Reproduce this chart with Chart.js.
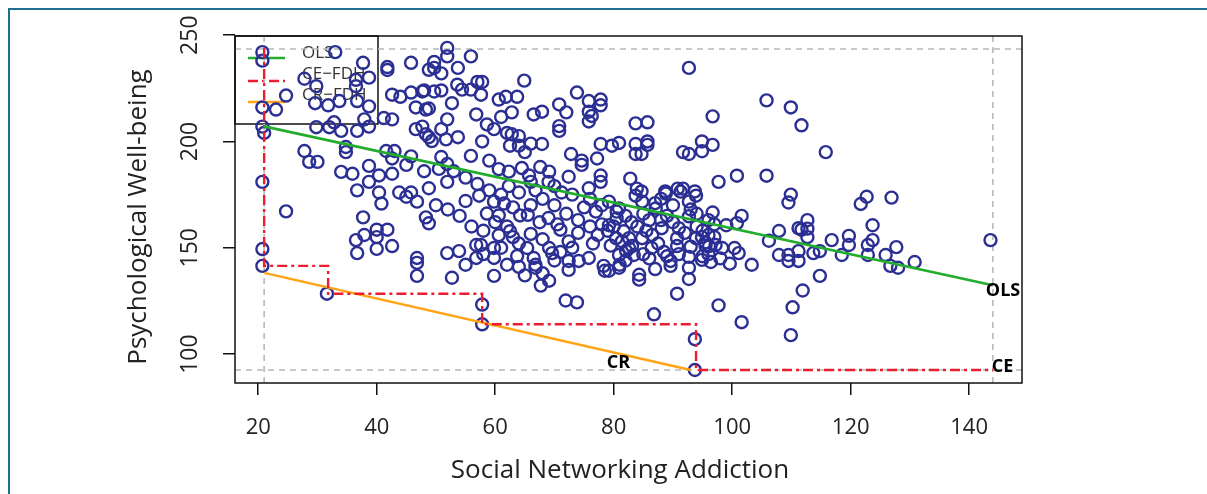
<!DOCTYPE html>
<html><head><meta charset="utf-8">
<script src="https://cdn.jsdelivr.net/npm/chart.js@4.4.1/dist/chart.umd.min.js"></script>
<style>html,body{margin:0;padding:0;background:#fff;}canvas{display:block;}</style>
</head><body>
<canvas id="c" width="1207" height="494"></canvas>
<script>
const xTicks=[20,40,60,80,100,120,140];
const yTicks=[100,150,200,250];
const addiction=[20.7,20.7,20.7,20.7,21,20.7,20.7,20.7,23,24.7,24.7,27.8,27.8,28.6,29.6,29.8,29.8,30,31.6,31.8,32,32.8,33,33.7,34,34,34.8,34.8,35.9,36.5,36.5,36.5,36.7,36.7,36.7,36.7,37.7,37.7,37.9,37.9,38.7,38.7,38.7,38.7,38.7,40,40,40,40.4,40.4,40.8,41.2,41.6,41.8,41.8,41.8,42.6,42.6,42.6,42.6,42.6,43,43.8,44,45,45,45.8,45.8,45.8,45.8,46.6,46.6,46.8,46.8,46.8,46.8,47.7,47.7,48,48,48.3,48.3,48.3,48.8,48.8,48.8,48.8,48.8,49.3,49.7,49.7,49.7,50.5,50.9,50.9,50.9,50.9,51.7,51.9,51.9,51.9,51.9,51.9,51.9,52.7,52.7,53.6,53.7,53.7,53.9,54.4,55.9,55.9,55.9,56.8,56.8,56.8,57,57.3,57.6,57.6,57.8,57.8,57.8,57.8,58.6,58.6,59,59,59.8,59.8,59.8,59.8,59.8,60.6,60.6,60.6,60.6,61,61.5,61.8,62,62.3,62.3,62.5,62.5,62.8,62.8,63.7,63.7,64,64,64,64.2,64.5,64.9,65,65.4,65.5,65.7,66,66,66.5,66.5,66.8,66.8,66.8,67.5,67.6,67.7,67.9,67.9,68,69,69,69.1,69.1,69.1,69.6,70.5,70.8,70.8,70.8,71,71.2,71.9,72,72.4,72.4,72.4,72.4,72.8,73.8,73.8,74.1,74.6,74.6,75,75.8,75.8,75.8,75.8,75.8,76,76.3,76.5,77,77.2,77.3,77.8,77.8,77.8,77.8,77.8,78,78.3,78.5,79,79.2,79.2,79.2,79.5,79.7,80,80.4,80.5,80.5,80.9,80.9,80.9,80.9,81.4,81.7,82.1,82.6,82.6,82.8,83.1,83.4,83.7,83.7,83.7,83.7,83.9,84.3,84.3,84.7,84.7,84.8,84.8,85.7,85.7,85.7,86.4,86.8,87.1,88.1,88.7,88.8,89.6,89.6,90.7,90.7,90.7,90.8,91,91.3,91.7,91.7,92.7,92.7,92.7,92.7,92.7,92.7,92.7,93,93.7,93.7,93.7,93.9,93.9,94.9,94.9,94.9,94.9,95.5,95.5,96.1,96.4,96.7,96.7,96.7,97.2,97.7,97.7,98.3,99,99.6,100.4,100.8,100.8,101.1,101.6,101.6,103.3,105.8,105.8,106.2,107.9,107.9,109.5,109.5,109.5,109.9,109.9,109.9,110.2,111.2,111.2,111.2,111.7,111.7,111.9,112.7,112.7,112.7,113.7,114.8,114.8,115.8,116.8,118.5,119.7,119.7,121.7,122.7,122.9,122.9,123.7,123.7,125.9,126.7,126.9,127.7,128,130.8,143.6,
84,85.5,86.5,87.5,88.5,89,86,85,82,81,87,91,92,94,95,96,97,95,96,98,90,89,88,86,83,82,85,87,88,90,93,94,96,97,
50,52,54,55,56,58,60,62,63,64,61,58,55,62,64,65,68,70,71,73,74,74,72,70,68,66,63,61,57,55,53,66,70,73,76,78];
const wellbeing=[242,238,216,207,204,181,149.4,141.5,215,221.6,167.1,229.5,195.5,190.4,218,226,206.7,190.4,128.4,217,206.7,209,242,219,205,185.7,197.4,195,184.8,229,226,153.6,219,205,177,147.5,237,164.3,210.4,156,230,216.5,207,188.5,181,158.5,155,149.5,184,176,170.8,211,195.5,235,233.6,158.5,222,210.4,192,184.8,150.8,195.5,176,221,189,174,237,223,193,176,216,205.8,171.7,145.2,142.9,136.8,223.5,207,224,186,215,203.4,164.3,233.7,215.5,202,178,161.5,200.2,237.4,234.6,223.5,187.1,232,224,205.8,192.7,201,244,240,210.4,189.4,181,147.5,218,135.9,226.7,234.6,202,148.4,224.4,240,224.4,193.2,212.7,151.3,145.2,228,174.5,222,151.3,228,200,123.3,114,208,166.1,191,177,205.8,171.7,149.9,145.2,136.8,219.7,187,165.2,155.9,211.5,170.8,221,204,185.8,179,198,157.8,213.7,203.4,221,146.1,202.5,198,176,165.2,187.5,228.6,195,149.9,165.5,184,199,156.5,212.7,145.2,177,142,140.6,162,188,132.2,214,198.8,154,181,164,185.8,149.9,134.5,147.5,161,217.4,207.2,205,158.5,176,125.2,213.7,183.4,153,143.8,139.6,194.1,223,124.3,143.8,191,189,169,219,214,209.4,178,145.2,160,212,152,167,192,156,219.7,217,198.8,184,181,161,141.5,139.2,158,139.2,171.7,160.6,151,198,160,154.5,167,163.8,199.3,168.5,146.6,140.6,153,157.8,148.5,154.5,149.9,182.5,150.8,146.6,208.5,198.8,194.1,174.5,177.8,137.3,135,194.1,176.5,171.7,154.5,209,200,198.4,149.9,118.7,168.5,159.2,176.5,175.5,143.8,141.5,150.8,154.5,128.4,177.8,159.2,176.4,195,177.8,234.6,194.1,171.7,164.8,145.7,140.6,135.3,150.5,176.5,107,92.5,174.5,154.5,200,195.4,155,144.3,152.5,151,150.8,143.3,211.8,198.4,166.6,151.3,181,122.9,149.9,160.6,142.5,149.9,183.9,161.6,147.5,165,115,142,219.3,183.9,153.3,157.9,146.6,171.3,146.6,143.8,216,175,108.9,122,159.2,148.4,143.8,207.6,158.5,129.9,163,159,155,147.5,148.4,136.8,195,153.6,146.6,155.6,151.3,170.6,174,151.3,146.6,160.6,153.6,146.6,141.5,173.6,150.3,140.6,143.3,153.6,
160,158,156,152,148,146,145,147,144,142,140,147,157,160,158,156,155,146,147,145,162,165,163,163,162,165,166,171,173,170,168,166,163,161,
170,168,165,172,160,158,162,160,155,152,150,147,142,142,141,137,138,144,148,150,157,163,166,170,173,170,169,175,180,183,186,181,179,175,173,170];
const olsX=[21,144], olsY=[207.1,132.4];
const ceX=[21,21,31.8,31.8,57.8,57.8,93.9,93.9,144];
const ceY=[244,141.5,141.5,128.4,128.4,114,114,92.5,92.5];
const crX=[21,93], crY=[138.2,92.5];
const refX=[21,144], refY=[92.5,243.5];
const xMin=16.08, xMax=148.92, yMin=86.4, yMax=249.6;

const pairs=(xs,ys)=>xs.map((x,i)=>({x:x,y:ys[i]}));
const FONT="'Open Sans', 'DejaVu Sans', sans-serif";
Chart.defaults.font.family=FONT;

const refSets=[
 pairs([refX[0],refX[0]],[yMin,yMax]),
 pairs([refX[1],refX[1]],[yMin,yMax]),
 pairs([xMin,xMax],[refY[0],refY[0]]),
 pairs([xMin,xMax],[refY[1],refY[1]])
].map(d=>({data:d,showLine:true,borderColor:'#b8b8b8',borderWidth:1.6,borderDash:[6,5],pointRadius:0,order:30}));

const decor={
 id:'decor',
 beforeDraw(ch){
  const c=ch.ctx; c.save(); c.fillStyle='#fff'; c.fillRect(0,0,ch.width,ch.height);
  c.strokeStyle='#1f6e8c'; c.lineWidth=2;
  c.beginPath(); c.moveTo(9,494); c.lineTo(9,9); c.lineTo(1207,9); c.stroke();
  c.restore();
 },
 beforeDatasetsDraw(ch){
  const c=ch.ctx, a=ch.chartArea; c.save();
  c.strokeStyle='#111'; c.lineWidth=1.5;
  c.strokeRect(a.left, a.top, 143, 88);
  const lx0=a.left+13, lx1=a.left+50;
  c.lineWidth=2.5;
  c.strokeStyle='#22ad2c'; c.beginPath(); c.moveTo(lx0,a.top+22); c.lineTo(lx1,a.top+22); c.stroke();
  c.strokeStyle='#ee1c2e'; c.setLineDash([10,4,3,4]); c.beginPath(); c.moveTo(lx0,a.top+45); c.lineTo(lx1,a.top+45); c.stroke();
  c.setLineDash([]);
  c.strokeStyle='#ffa414'; c.beginPath(); c.moveTo(lx0,a.top+66); c.lineTo(lx1,a.top+66); c.stroke();
  c.fillStyle='#333'; c.font='17px '+FONT; c.textBaseline='middle'; c.textAlign='left';
  c.fillText('OLS',a.left+67,a.top+17);
  c.fillText('CE\u2212FDH',a.left+67,a.top+38);
  c.fillText('CR\u2212FDH',a.left+67,a.top+59);
  c.restore();
 },
 afterDatasetsDraw(ch){
  const c=ch.ctx, a=ch.chartArea; c.save();
  c.strokeStyle='#111'; c.lineWidth=1.5;
  c.strokeRect(a.left,a.top,a.right-a.left,a.bottom-a.top);
  const xs=ch.scales.x, ys=ch.scales.y;
  c.fillStyle='#000'; c.font='bold 18px '+FONT; c.textBaseline='middle'; c.textAlign='left';
  c.fillText('OLS', xs.getPixelForValue(olsX[1])-7, ys.getPixelForValue(olsY[1])+6);
  c.fillText('CE', xs.getPixelForValue(ceX[ceX.length-1])-1, ys.getPixelForValue(ceY[ceY.length-1])-3);
  c.textAlign='center';
  c.fillText('CR', xs.getPixelForValue(80.8), ys.getPixelForValue(95.8));
  c.fillStyle='#222'; c.font='23px '+FONT; c.textAlign='center';
  yTicks.forEach(v=>{const y=ys.getPixelForValue(v); c.save(); c.translate(a.left-45,y); c.rotate(-Math.PI/2); c.fillText(String(v),0,0); c.restore();});
  c.font='26px '+FONT;
  c.fillText('Social Networking Addiction', 620, 471);
  c.save(); c.translate(139, 217); c.rotate(-Math.PI/2); c.fillText('Psychological Well-being',0,0); c.restore();
  c.restore();
 }
};

new Chart(document.getElementById('c'),{
 type:'scatter',
 data:{datasets:[
  {label:'OLS',data:pairs(olsX,olsY),showLine:true,borderColor:'#22ad2c',borderWidth:2.6,pointRadius:0,order:1},
  {label:'CE-FDH',data:pairs(ceX,ceY),showLine:true,borderColor:'#ee1c2e',borderWidth:2.4,borderDash:[10,4,3,4],pointRadius:0,order:2},
  {label:'CR-FDH',data:pairs(crX,crY),showLine:true,borderColor:'#ffa414',borderWidth:2.4,pointRadius:0,order:3},
  {label:'data',data:pairs(addiction,wellbeing),pointStyle:'circle',pointRadius:6,borderColor:'#2b2f93',borderWidth:2.4,backgroundColor:'rgba(0,0,0,0)',order:10},
  ...refSets
 ]},
 options:{
  responsive:false,animation:false,devicePixelRatio:1,
  layout:{padding:{left:0,top:36,right:185,bottom:0}},
  plugins:{legend:{display:false},tooltip:{enabled:false}},
  scales:{
   x:{type:'linear',min:xMin,max:xMax,
      afterFit:s=>{s.height=111;},
      afterBuildTicks:s=>{s.ticks=xTicks.map(v=>({value:v}));},
      grid:{display:true,drawOnChartArea:false,drawTicks:true,tickLength:12,color:'#111',lineWidth:1.5},
      border:{display:false},
      ticks:{color:'#222',font:{size:22,family:FONT},padding:20,maxRotation:0}},
   y:{type:'linear',min:yMin,max:yMax,
      afterFit:s=>{s.width=235;},
      afterBuildTicks:s=>{s.ticks=yTicks.map(v=>({value:v}));},
      grid:{display:true,drawOnChartArea:false,drawTicks:true,tickLength:12,color:'#111',lineWidth:1.5},
      border:{display:false},
      ticks:{display:false}}
  }
 },
 plugins:[decor]
});
</script>
</body></html>
